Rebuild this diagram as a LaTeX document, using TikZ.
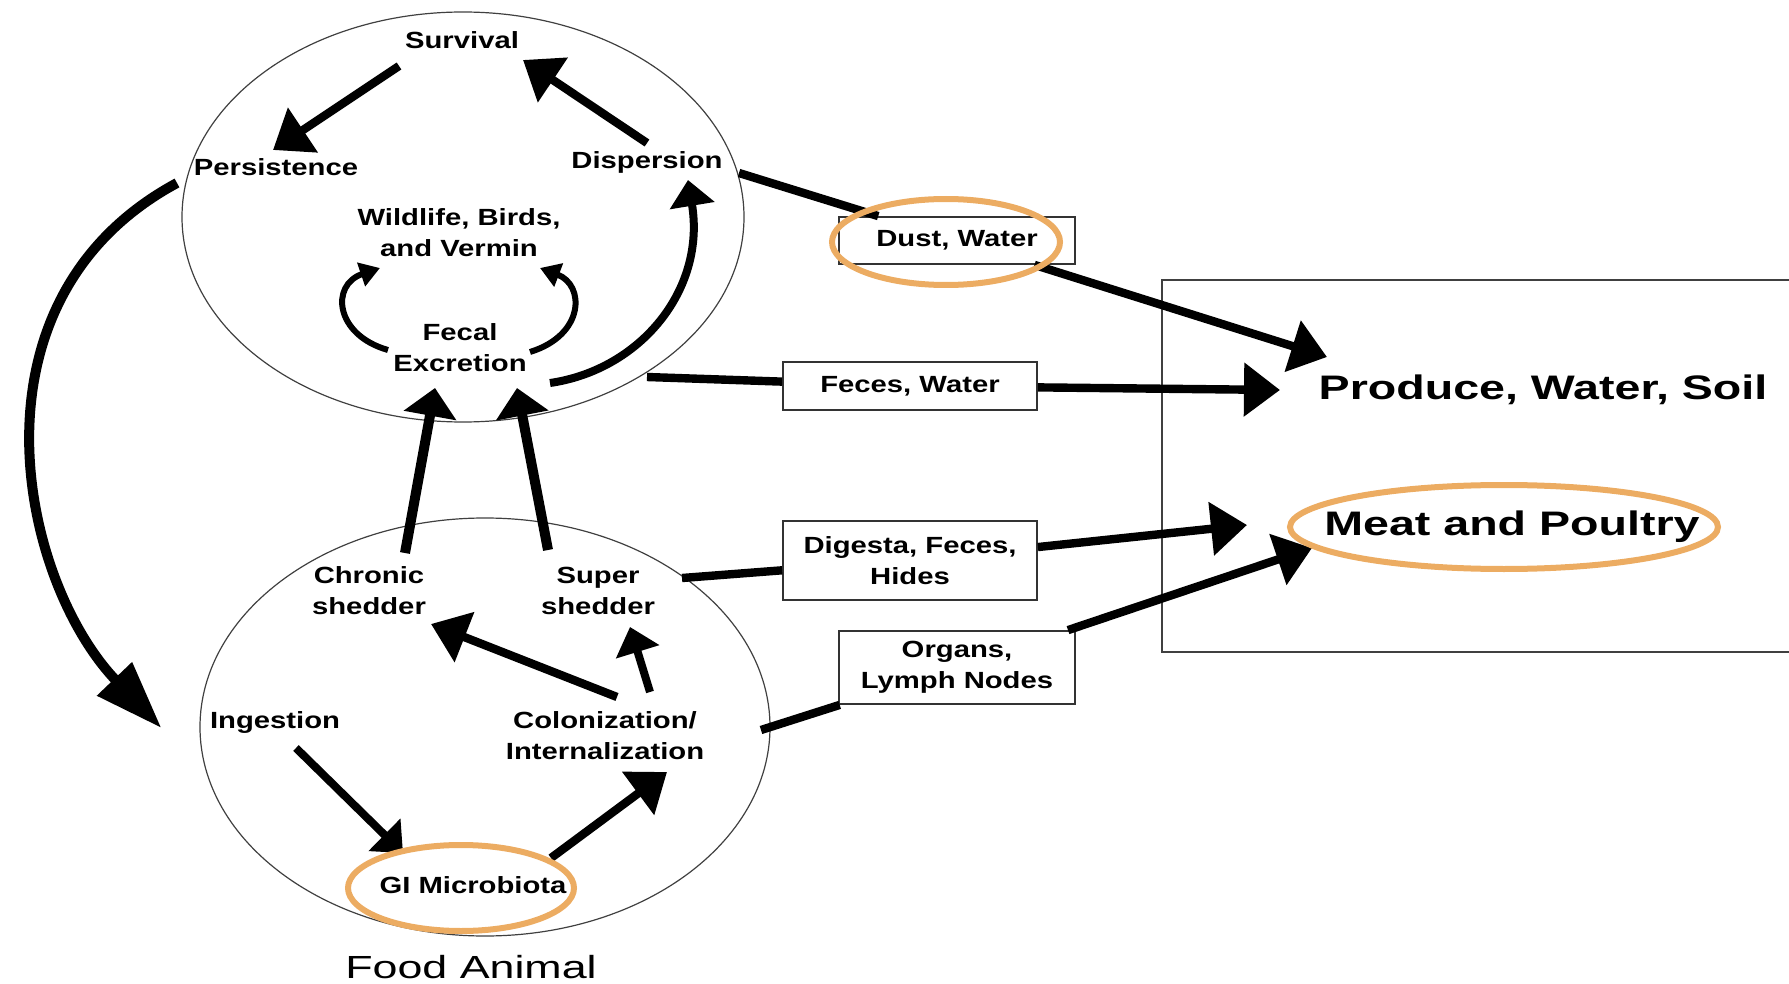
\documentclass[tikz,border=0pt]{standalone}
\usepackage{fontspec}
\setmainfont[FakeStretch=1.25]{Liberation Sans}
\newfontfamily\widefont[FakeStretch=1.37]{Liberation Sans}
\newfontfamily\plainfont[FakeStretch=1.4]{Liberation Sans}
\usetikzlibrary{arrows.meta,calc,shapes.geometric}
\definecolor{hilite}{RGB}{236,172,98}

\begin{document}
\begin{tikzpicture}[x=0.5pt,y=-0.5pt,
  lab/.style={inner sep=1pt, align=center, font=\fontsize{11.7}{15.5}\selectfont\bfseries},
  tagbox/.style={draw=black!80, line width=0.9pt, fill=white, inner sep=2pt, align=center,
                 font=\fontsize{11.7}{15.5}\selectfont\bfseries},
  target/.style={inner sep=1pt, font=\widefont\fontsize{17}{20}\selectfont\bfseries},
  zone/.style={ellipse, draw=black!75, line width=0.6pt, inner sep=0pt},
  ring/.style={draw=hilite, line width=3pt},
  flow/.style={line width=4.2pt, -{Triangle[length=18pt,width=26pt]}},
  heavyflow/.style={line width=5pt, -{Triangle[length=14pt,width=26pt]}},
  midflow/.style={line width=4pt, -{Triangle[length=13pt,width=22pt]}},
  loopflow/.style={line width=3pt, -{Triangle[length=10pt,width=12pt]}},
  sweep/.style={line width=5pt, -{Triangle[length=34pt,width=23pt]}},
]
\useasboundingbox (0,0) rectangle (1789,984);

% destination panel (runs off the right edge)
\draw[black!75, line width=0.9pt] (1800,280) -- (1162,280) -- (1162,652) -- (1800,652);

% the two compartments
\node[zone, minimum width=281pt, minimum height=205pt] (up) at (463,217) {};
\node[zone, minimum width=285pt, minimum height=209pt] (low) at (485,727) {};

% environment compartment
\node[lab] (surv)  at (462,40)  {Survival};
\node[lab] (pers)  at (276,167) {Persistence};
\node[lab] (disp)  at (647,162) {Dispersion};
\node[lab] (wild)  at (459,233) {Wildlife, Birds,\\and Vermin};
\node[lab] (fecal) at (460,348) {Fecal\\Excretion};

% animal compartment
\node[lab] (chron)  at (369,591) {Chronic\\shedder};
\node[lab] (super)  at (598,591) {Super\\shedder};
\node[lab] (ingest) at (275,722) {Ingestion};
\node[lab] (colon)  at (605,736) {Colonization/\\Internalization};
\node[lab] (gi)     at (473,885) {GI Microbiota};
\node[font=\plainfont\fontsize{16}{19}\selectfont] (food) at (471,967) {Food Animal};

% destinations
\node[target] (produce) at (1543,390) {Produce, Water, Soil};
\node[target] (meat)    at (1512,527) {Meat and Poultry};

% cycles inside the environment
\draw[flow] ($(surv)+(-63,26)$) -- ($(pers)+(-3,-17)$);
\draw[flow] ($(disp)+(0,-19)$) -- ($(surv)+(61,20)$);
\draw[loopflow] ($(fecal)+(-72,2)$) .. controls (335,335) and (330,285) .. ($(wild)+(-79,35)$);
\draw[loopflow] ($(fecal)+(70,4)$) .. controls (585,335) and (585,285) .. ($(wild)+(81,35)$);
\draw[midflow] ($(fecal)+(90,35)$) .. controls (640,370) and (706,290) .. ($(disp)+(41,18)$);

% return to the animal
\draw[sweep] ($(pers)+(-99,16)$) .. controls (-40,300) and (20,580) .. ($(low.west)+(-38,1)$);

% shedding into the environment
\draw[heavyflow] ($(chron)+(36,-38)$) -- ($(fecal)+(-25,40)$);
\draw[heavyflow] ($(super)+(-50,-41)$) -- ($(fecal)+(57,40)$);

% cycle inside the animal
\draw[flow] ($(colon)+(12,-39)$) -- ($(chron)+(62,33)$);
\draw[midflow] ($(colon)+(45,-44)$) -- ($(super)+(32,36)$);
\draw[midflow] ($(ingest)+(21,26)$) -- ($(gi)+(-70,-32)$);
\draw[flow] ($(gi)+(78,-27)$) -- ($(colon)+(62,36)$);

% transfer routes
\node[tagbox, minimum width=118pt, minimum height=23.5pt] (dust)  at (957,240.5) {Dust, Water};
\node[tagbox, minimum width=127pt, minimum height=24pt]   (feces) at (910,386)   {Feces, Water};
\node[tagbox, minimum width=127pt, minimum height=39.5pt] (dig)   at (910,560.5) {Digesta, Feces,\\Hides};
\node[tagbox, minimum width=118pt, minimum height=36.5pt] (org)   at (957,667.5) {Organs,\\Lymph Nodes};

\draw[line width=4.2pt] ($(disp)+(92,11)$) -- (dust);
\draw[flow] (dust) -- ($(produce)+(-216,-33)$);
\draw[line width=4.2pt] ($(up)+(184,160)$) -- (feces);
\draw[flow] (feces) -- ($(produce)+(-263,0)$);
\draw[line width=4.2pt] ($(super)+(84,-13)$) -- (dig);
\draw[flow] (dig) -- ($(meat)+(-265,-2)$);
\draw[line width=4.2pt] ($(low)+(276,3)$) -- (org);
\draw[flow] (org) -- ($(meat)+(-200,21)$);

% highlights
\draw[ring] (946,242) ellipse [x radius=114, y radius=43];
\draw[ring] (1504,527) ellipse [x radius=214, y radius=42];
\draw[ring] (461,888) ellipse [x radius=113, y radius=43];
\end{tikzpicture}
\end{document}
